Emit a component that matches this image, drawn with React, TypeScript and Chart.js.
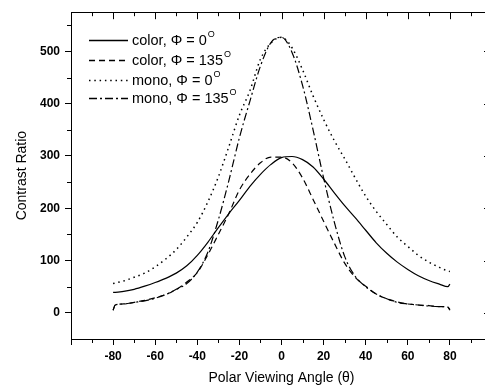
import React, { useEffect, useRef } from "react";
import { Chart, registerables } from "chart.js";

Chart.register(...registerables);

const angles = [-80, -79, -75, -70, -65, -60, -55, -50, -45, -40, -35, -30, -25, -20, -15, -10, -5, 0, 5, 10, 15, 20, 25, 30, 35, 40, 45, 50, 55, 60, 65, 70, 75, 79, 80];
const colorPhi0 = [39, 39, 41, 45, 51, 58, 66, 76, 90, 110, 135, 163, 190, 215, 242, 265, 284, 297, 299, 293, 279, 256, 230, 205, 182, 158, 134, 114, 97, 83, 71, 62, 55, 50, 55];
const colorPhi135 = [5, 15, 17, 20, 24, 29, 35, 45, 59, 77, 111, 150, 190, 235, 265, 287, 298, 298, 287, 258, 217, 175, 134, 95, 68, 51, 36, 27, 21, 17, 15, 14, 12, 11, 5];
const monoPhi0 = [56, 57, 61, 68, 76, 88, 103, 121, 145, 173, 212, 260, 318, 378, 425, 485, 516, 527, 507, 465, 415, 370, 330, 295, 258, 223, 194, 169, 145, 127, 110, 97, 87, 80, 79];
const monoPhi135 = [5, 15, 17, 20, 23, 28, 35, 45, 56, 78, 116, 178, 253, 335, 405, 472, 517, 527, 498, 435, 350, 258, 175, 108, 70, 50, 36, 27, 20, 17, 15, 13, 12, 11, 6];

const seriesLabels = ["color, \u03A6 = 0", "color, \u03A6 = 135", "mono, \u03A6 = 0", "mono, \u03A6 = 135"];
const xMajorTicks = [-100, -80, -60, -40, -20, 0, 20, 40, 60, 80, 100];
const xMinorTicks = [-90, -70, -50, -30, -10, 10, 30, 50, 70, 90];
const yMajorTicks = [0, 100, 200, 300, 400, 500];
const yMinorTicks = [50, 150, 250, 350, 450, 550];
const xTitle = "Polar Viewing Angle (\u03B8)";
const yTitle = "Contrast Ratio";

const FONT = "'Liberation Sans', Arial, Helvetica, sans-serif";
const dashes = [[], [6, 4], [1.5, 3.8], [8, 3, 2, 3]];

export default function App() {
  const ref = useRef<HTMLCanvasElement | null>(null);
  useEffect(() => {
    const canvas = ref.current;
    if (!canvas) return;
    const values = [colorPhi0, colorPhi135, monoPhi0, monoPhi135];
    const decor = {
      id: "decor",
      afterDraw(chart: any) {
        const ctx = chart.ctx;
        const a = chart.chartArea;
        const xs = chart.scales.x;
        const ys = chart.scales.y;
        ctx.save();
        ctx.strokeStyle = "#000";
        ctx.lineWidth = 1;
        ctx.setLineDash([]);
        ctx.beginPath();
        ctx.moveTo(a.left, Math.round(a.top) + 0.5);
        ctx.lineTo(a.right, Math.round(a.top) + 0.5);
        ctx.moveTo(Math.round(a.right) + 0.5, a.top);
        ctx.lineTo(Math.round(a.right) + 0.5, a.bottom);
        ctx.stroke();
        ctx.beginPath();
        xMajorTicks.forEach((v) => {
          const px = Math.round(xs.getPixelForValue(v)) + 0.5;
          ctx.moveTo(px, a.top);
          ctx.lineTo(px, a.top + 7);
        });
        xMinorTicks.forEach((v) => {
          const px = Math.round(xs.getPixelForValue(v)) + 0.5;
          ctx.moveTo(px, a.top);
          ctx.lineTo(px, a.top + 4);
          ctx.moveTo(px, a.bottom);
          ctx.lineTo(px, a.bottom + 4);
        });
        yMajorTicks.forEach((v) => {
          const py = Math.round(ys.getPixelForValue(v)) + 0.5;
          ctx.moveTo(a.right, py);
          ctx.lineTo(a.right - 8, py);
        });
        yMinorTicks.forEach((v) => {
          const py = Math.round(ys.getPixelForValue(v)) + 0.5;
          ctx.moveTo(a.left, py);
          ctx.lineTo(a.left - 4, py);
          ctx.moveTo(a.right, py);
          ctx.lineTo(a.right - 4, py);
        });
        ctx.stroke();

        ctx.fillStyle = "#000";
        ctx.font = `14px ${FONT}`;
        ctx.textAlign = "center";
        ctx.textBaseline = "middle";
        ctx.fillText(xTitle, xs.getPixelForValue(0), 378);
        ctx.save();
        ctx.translate(22, (a.top + a.bottom) / 2);
        ctx.rotate(-Math.PI / 2);
        ctx.fillText(yTitle, 0, 0);
        ctx.restore();

        const rows = [40, 60, 80, 98];
        ctx.textAlign = "left";
        ctx.textBaseline = "middle";
        seriesLabels.forEach((lab, i) => {
          const y = rows[i];
          ctx.save();
          ctx.lineWidth = i === 2 ? 1.5 : 1.3;
          ctx.setLineDash(dashes[i]);
          ctx.beginPath();
          ctx.moveTo(89, y + 0.5);
          ctx.lineTo(128, y + 0.5);
          ctx.stroke();
          ctx.restore();
          ctx.font = `14.5px ${FONT}`;
          ctx.fillText(lab, 132, y + 1);
          const w = ctx.measureText(lab).width;
          ctx.font = `9px ${FONT}`;
          ctx.fillText("O", 132 + w + 1, y - 5);
        });
        ctx.restore();
      },
    };

    const chart = new Chart(canvas, {
      type: "line",
      data: {
        datasets: values.map((vals, i) => ({
          label: seriesLabels[i],
          data: angles.map((x, k) => ({ x, y: vals[k] })),
          borderColor: "#000",
          backgroundColor: "#000",
          borderWidth: i === 2 ? 1.5 : 1.2,
          borderDash: dashes[i],
          pointRadius: 0,
          cubicInterpolationMode: "monotone",
          fill: false,
        })),
      },
      options: {
        responsive: false,
        animation: false,
        events: [],
        layout: { padding: { top: 8, right: 8, left: 0, bottom: 0 } },
        plugins: { legend: { display: false }, tooltip: { enabled: false } },
        scales: {
          x: {
            type: "linear",
            min: -100,
            max: 100,
            afterBuildTicks: (s: any) => {
              s.ticks = xMajorTicks.map((v) => ({ value: v }));
            },
            afterFit: (s: any) => {
              s.height = 51;
            },
            ticks: {
              autoSkip: false,
              maxRotation: 0,
              padding: 4,
              color: "#000",
              font: { family: FONT, size: 12, weight: "bold" },
              callback: (v: any) => (v === -100 || v === 100 ? "" : String(v)),
            },
            grid: { display: true, drawOnChartArea: false, drawTicks: true, tickLength: 6, tickColor: "#000", color: "#000" },
            border: { display: true, color: "#000", width: 1 },
          },
          y: {
            type: "linear",
            min: -50,
            max: 575,
            afterBuildTicks: (s: any) => {
              s.ticks = yMajorTicks.map((v) => ({ value: v }));
            },
            afterFit: (s: any) => {
              s.width = 71;
            },
            ticks: {
              autoSkip: false,
              padding: 5,
              color: "#000",
              font: { family: FONT, size: 12, weight: "bold" },
              callback: (v: any) => String(v),
            },
            grid: { display: true, drawOnChartArea: false, drawTicks: true, tickLength: 6, tickColor: "#000", color: "#000" },
            border: { display: true, color: "#000", width: 1 },
          },
        },
      },
      plugins: [decor],
    } as any);
    return () => chart.destroy();
  }, []);

  return (
    <div style={{ position: "fixed", left: 0, top: 0, width: 485, height: 390, overflow: "hidden", background: "#fff" }}>
      <canvas ref={ref} width={500} height={390} style={{ display: "block", width: 500, height: 390 }} />
    </div>
  );
}
